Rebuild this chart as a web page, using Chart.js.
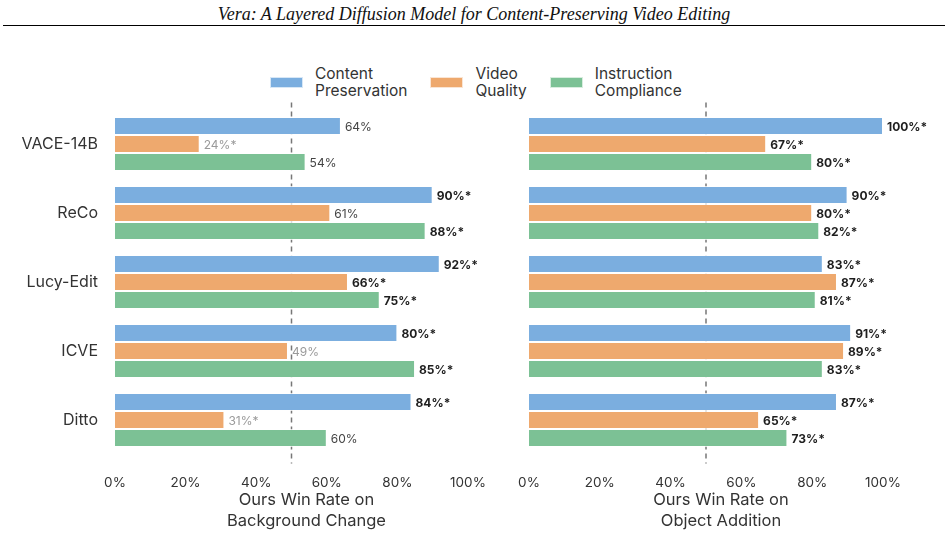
<!DOCTYPE html>
<html>
<head>
<meta charset="utf-8">
<script src="https://cdn.jsdelivr.net/npm/chart.js@4.4.1/dist/chart.umd.min.js"></script>
<style>
  body { margin: 0; background: #fff; width: 948px; height: 537px; position: relative; overflow: hidden; font-family: Inter, "DejaVu Sans", sans-serif; }
  #cabecera { position: absolute; left: 0; top: 4px; width: 948px; text-align: center; font-family: "Liberation Serif", serif; font-style: italic; font-size: 18px; color: #111; }
  #linea { position: absolute; left: 3px; top: 25px; width: 942px; height: 0; border-top: 1.3px solid #000; }
  #leyenda { position: absolute; left: 270px; top: 65px; display: flex; align-items: center; font-size: 15.5px; color: #333; line-height: 17px; }
  .item { display: flex; align-items: center; margin-right: 23px; }
  .caja { width: 33px; height: 11px; margin-right: 12px; box-sizing: border-box; border: 1px solid rgba(255,255,255,0.7); }
  #izq { position: absolute; left: 0; top: 95px; width: 490px; height: 442px; }
  #der { position: absolute; left: 490px; top: 95px; width: 458px; height: 442px; }
</style>
</head>
<body>
<div id="cabecera">Vera: A Layered Diffusion Model for Content-Preserving Video Editing</div>
<div id="linea"></div>
<div id="leyenda"></div>
<div id="izq"><canvas id="graficoFondo"></canvas></div>
<div id="der"><canvas id="graficoObjeto"></canvas></div>
<script>
// Datos del gráfico
const modelos = ["VACE-14B", "ReCo", "Lucy-Edit", "ICVE", "Ditto"];
const series = ["Content\nPreservation", "Video\nQuality", "Instruction\nCompliance"];
const colores = ["#7BAEDF", "#EEA96E", "#7CC195"];
const ticksX = [0, 20, 40, 60, 80, 100];

// Background Change
const fondoContenido = [64, 90, 92, 80, 84];
const fondoCalidad = [24, 61, 66, 49, 31];
const fondoInstruccion = [54, 88, 75, 85, 60];
const fondoContenidoSig = [false, true, true, true, true];
const fondoCalidadSig = [true, false, true, false, true];
const fondoInstruccionSig = [false, true, true, true, false];

// Object Addition
const objetoContenido = [100, 90, 83, 91, 87];
const objetoCalidad = [67, 80, 87, 89, 65];
const objetoInstruccion = [80, 82, 81, 83, 73];
const objetoContenidoSig = [true, true, true, true, true];
const objetoCalidadSig = [true, true, true, true, true];
const objetoInstruccionSig = [true, true, true, true, true];

const fuente = "Inter, 'DejaVu Sans', sans-serif";

// Leyenda en HTML compartida por los dos gráficos
const leyenda = document.getElementById("leyenda");
series.forEach((s, i) => {
    const item = document.createElement("div");
    item.className = "item";
    item.innerHTML = `<div class="caja" style="background:${colores[i]}"></div><div>${s.replace("\n", "<br>")}</div>`;
    leyenda.appendChild(item);
});

// Línea discontinua al 50%
const lineaMitad = {
    id: "lineaMitad",
    beforeDatasetsDraw(chart) {
        const { ctx, chartArea, scales } = chart;
        const x = scales.x.getPixelForValue(50);
        ctx.save();
        ctx.strokeStyle = "#777";
        ctx.lineWidth = 1.5;
        ctx.setLineDash([5, 4]);
        ctx.beginPath();
        ctx.moveTo(x, chartArea.top - 7);
        ctx.lineTo(x, chartArea.bottom + 9);
        ctx.stroke();
        ctx.restore();
    }
};

// Etiquetas de valor al final de cada barra
const etiquetas = {
    id: "etiquetas",
    afterDatasetsDraw(chart) {
        const ctx = chart.ctx;
        chart.data.datasets.forEach((ds, i) => {
            const meta = chart.getDatasetMeta(i);
            meta.data.forEach((bar, j) => {
                const v = ds.data[j];
                const sig = ds.sig[j];
                let texto = v + "%" + (sig ? "*" : "");
                let color = "#444", peso = "normal";
                if (v < 50) { color = "#9a9a9a"; }
                else if (sig) { color = "#1e1e1e"; peso = "bold"; }
                ctx.save();
                ctx.font = `${peso} 12px ${fuente}`;
                ctx.fillStyle = color;
                ctx.textAlign = "left";
                ctx.textBaseline = "middle";
                ctx.fillText(texto, bar.x + 4, bar.y + 1);
                ctx.restore();
            });
        });
    }
};

// Título del eje x (un poco desplazado a la derecha como en el original)
const tituloEje = {
    id: "tituloEje",
    afterDraw(chart) {
        const { ctx, chartArea, scales } = chart;
        const lineas = chart.options.tituloX;
        const alto = 21;
        const x = (chartArea.left + chartArea.right) / 2 + 15;
        ctx.save();
        ctx.font = `16.5px ${fuente}`;
        ctx.fillStyle = "#333";
        ctx.textAlign = "center";
        ctx.textBaseline = "middle";
        lineas.forEach((t, k) => {
            const y = scales.x.bottom - 5 - alto / 2 - alto * (lineas.length - 1 - k);
            ctx.fillText(t, x, y);
        });
        ctx.restore();
    }
};

function crearGrafico(id, datos, sigs, titulo, anchoY, mostrarY, padDer) {
    const ctx = document.getElementById(id).getContext("2d");
    return new Chart(ctx, {
        type: "bar",
        data: {
            labels: modelos,
            datasets: datos.map((d, i) => ({
                label: series[i],
                data: d,
                sig: sigs[i],
                backgroundColor: colores[i],
                borderColor: "rgba(255,255,255,0.75)",
                borderWidth: 1,
                categoryPercentage: 0.785,
                barPercentage: 1
            }))
        },
        options: {
            tituloX: titulo,
            indexAxis: "y",
            responsive: true,
            maintainAspectRatio: false,
            animation: false,
            layout: { padding: { top: 14.5, right: padDer, left: 0, bottom: 0 } },
            plugins: { legend: { display: false }, tooltip: { enabled: false } },
            scales: {
                x: {
                    min: 0,
                    max: 100,
                    afterBuildTicks: (s) => { s.ticks = ticksX.map(v => ({ value: v })); },
                    afterFit: (s) => { s.height = 82.5; s.paddingLeft = 0; s.paddingRight = 0; },
                    grid: { display: false, drawTicks: false },
                    border: { display: false },
                    ticks: {
                        padding: 20,
                        color: "#333",
                        font: { family: fuente, size: 13.5 },
                        callback: (v) => v + "%",
                        maxRotation: 0
                    },
                    title: { display: false }
                },
                y: {
                    afterFit: (s) => { s.width = anchoY; s.paddingTop = 0; s.paddingBottom = 0; },
                    grid: { display: false, drawTicks: false },
                    border: { display: false },
                    ticks: {
                        display: mostrarY,
                        padding: 17,
                        color: "#333",
                        font: { family: fuente, size: 16 }
                    }
                }
            }
        },
        plugins: [lineaMitad, etiquetas, tituloEje]
    });
}

crearGrafico("graficoFondo",
    [fondoContenido, fondoCalidad, fondoInstruccion],
    [fondoContenidoSig, fondoCalidadSig, fondoInstruccionSig],
    ["Ours Win Rate on", "Background Change"], 115, true, 22);

crearGrafico("graficoObjeto",
    [objetoContenido, objetoCalidad, objetoInstruccion],
    [objetoContenidoSig, objetoCalidadSig, objetoInstruccionSig],
    ["Ours Win Rate on", "Object Addition"], 39, false, 65);
</script>
</body>
</html>
